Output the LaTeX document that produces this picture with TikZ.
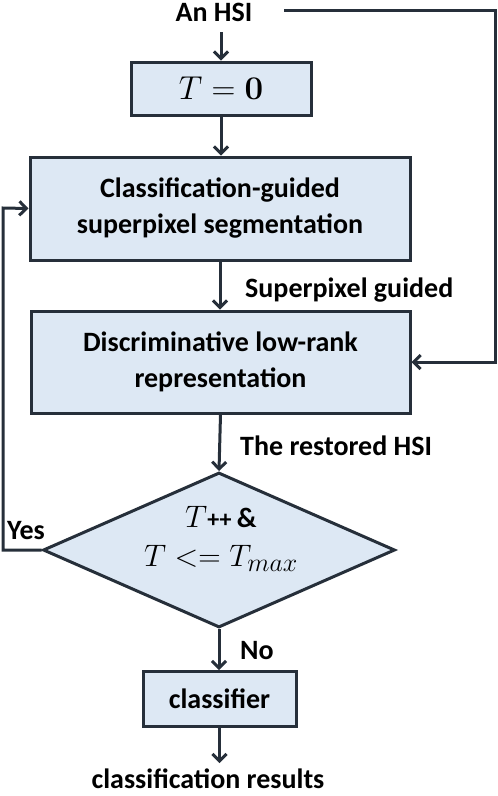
\documentclass[tikz,border=0pt]{standalone}
\usepackage{graphicx}
\usepackage[no-math]{fontspec}
\setmainfont{Carlito}
\usetikzlibrary{arrows.meta,shapes.geometric}
\definecolor{ln}{HTML}{262F3A}
\definecolor{bx}{HTML}{DDE8F4}
\newcommand{\bigmath}[2]{\scalebox{#1}{\fontsize{24.88}{30}\selectfont$#2$}}
\tikzset{
  flowbox/.style={draw=ln, fill=bx, line width=3pt, inner sep=0pt, align=center, font=\fontsize{28}{36}\selectfont\bfseries},
  decision/.style={diamond, draw=ln, fill=bx, line width=3pt, inner sep=0pt, aspect=2.27},
  mathtxt/.style={inner sep=0pt, align=center, font=\fontsize{28}{39}\selectfont},
  lbl/.style={font=\fontsize{28}{34}\selectfont\bfseries, inner sep=0pt, text=black},
  conn/.style={draw=ln, line width=3pt, -{Straight Barb[length=7pt,width=14pt,line width=3pt]}},
  plain/.style={draw=ln, line width=3pt}
}
\begin{document}
\begin{tikzpicture}[x=1pt,y=-1pt]
\useasboundingbox (0,0) rectangle (498,796);
\node[lbl] (hsi) at (214,12) {An HSI};
\node[flowbox, minimum width=180pt, minimum height=53pt] (t0) at (221,88.5) {\bigmath{1.33}{T=\mathbf{0}}};
\node[flowbox, minimum width=380pt, minimum height=103pt] (cls) at (220,208.5) {Classification-guided\\superpixel segmentation};
\node[flowbox, minimum width=379pt, minimum height=102pt] (dlr) at (220.5,362) {Discriminative low-rank\\representation};
\node[decision, minimum width=352pt, minimum height=155pt] (dia) at (219,550) {};
\node[mathtxt] (diatxt) at (221,539) {\bigmath{1.25}{T}\textbf{\fontsize{24}{39}\selectfont ++ \fontsize{28}{39}\selectfont\&}\\\bigmath{1.25}{T<=T_{max}}};
\node[flowbox, minimum width=153pt, minimum height=55pt] (clf) at (219.5,699) {classifier};
\node[lbl] (res) at (208,779) {classification results};
\coordinate (c1) at (495,10);
\coordinate (c2) at (495,362);
\coordinate (c3) at (3,550);
\coordinate (c4) at (3,208);
\node[lbl, anchor=west] (lsp) at (245,290) {Superpixel guided};
\node[lbl, anchor=west] (lrh) at (240,446) {The restored HSI};
\node[lbl] (lyes) at (26,531) {Yes};
\node[lbl, anchor=west] (lno) at (240,651) {No};
\draw[conn] (t0.north |- 0,32) -- (t0.north);
\draw[conn] (t0.south) -- (cls.north -| t0.south);
\draw[conn] (cls.south) -- (dlr.north -| cls.south);
\draw[conn] (dlr.south) -- (dia.north);
\draw[conn] (dia.south) -- (clf.north -| dia.south);
\draw[conn] (clf.south) -- ++(0,35);
\draw[conn] (284,10) -- (c1) -- (c2) -- (dlr.east);
\draw[conn] (dia.west) -- (c3) -- (c4) -- (cls.west);
\end{tikzpicture}
\end{document}
